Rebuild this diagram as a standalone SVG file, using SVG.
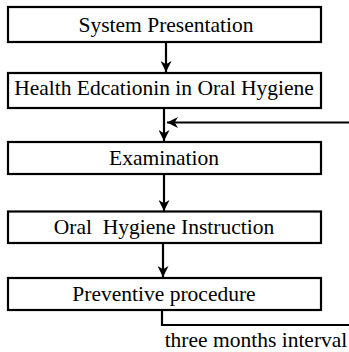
<svg xmlns="http://www.w3.org/2000/svg" width="349" height="352" viewBox="0 0 349 352">
<style>
.box{fill:#fff;stroke:#000;stroke-width:2.2}
.lbl{font-family:"Liberation Serif","Times New Roman",serif;font-size:21.5px;fill:#000;text-anchor:middle;white-space:pre}
.ln{fill:none;stroke:#000;stroke-width:2.2}
</style>
<defs>
<marker id="ah" viewBox="0 0 10 10" refX="10" refY="5" markerWidth="5" markerHeight="5" orient="auto" markerUnits="strokeWidth">
<path d="M0,0 L10,5 L0,10 L3,5 Z" fill="#000"/>
</marker>
</defs>
<rect width="349" height="352" fill="#fff"/>
<g id="connectors">
<line class="ln" x1="166" y1="42" x2="166" y2="72" marker-end="url(#ah)"/>
<line class="ln" x1="164" y1="108" x2="164" y2="141" marker-end="url(#ah)"/>
<line class="ln" x1="349" y1="122.5" x2="167" y2="122.5" marker-end="url(#ah)"/>
<line class="ln" x1="164" y1="174" x2="164" y2="211" marker-end="url(#ah)"/>
<line class="ln" x1="163" y1="243" x2="163" y2="277" marker-end="url(#ah)"/>
<polyline class="ln" points="162,310 162,325 349,325"/>
</g>
<g id="n1"><rect class="box" x="8" y="7" width="313" height="35"/><text class="lbl" x="166" y="32">System Presentation</text></g>
<g id="n2"><rect class="box" x="8" y="73" width="313" height="35"/><text class="lbl" x="164" y="95">Health Edcationin in Oral Hygiene</text></g>
<g id="n3"><rect class="box" x="8" y="142" width="313" height="32"/><text class="lbl" x="164" y="165">Examination</text></g>
<g id="n4"><rect class="box" x="8" y="211.5" width="313" height="31.5"/><text class="lbl" x="164" y="234" xml:space="preserve">Oral  Hygiene Instruction</text></g>
<g id="n5"><rect class="box" x="8" y="278" width="313" height="32"/><text class="lbl" x="164" y="301">Preventive procedure</text></g>
<text class="lbl" x="256" y="347">three months interval</text>
</svg>
